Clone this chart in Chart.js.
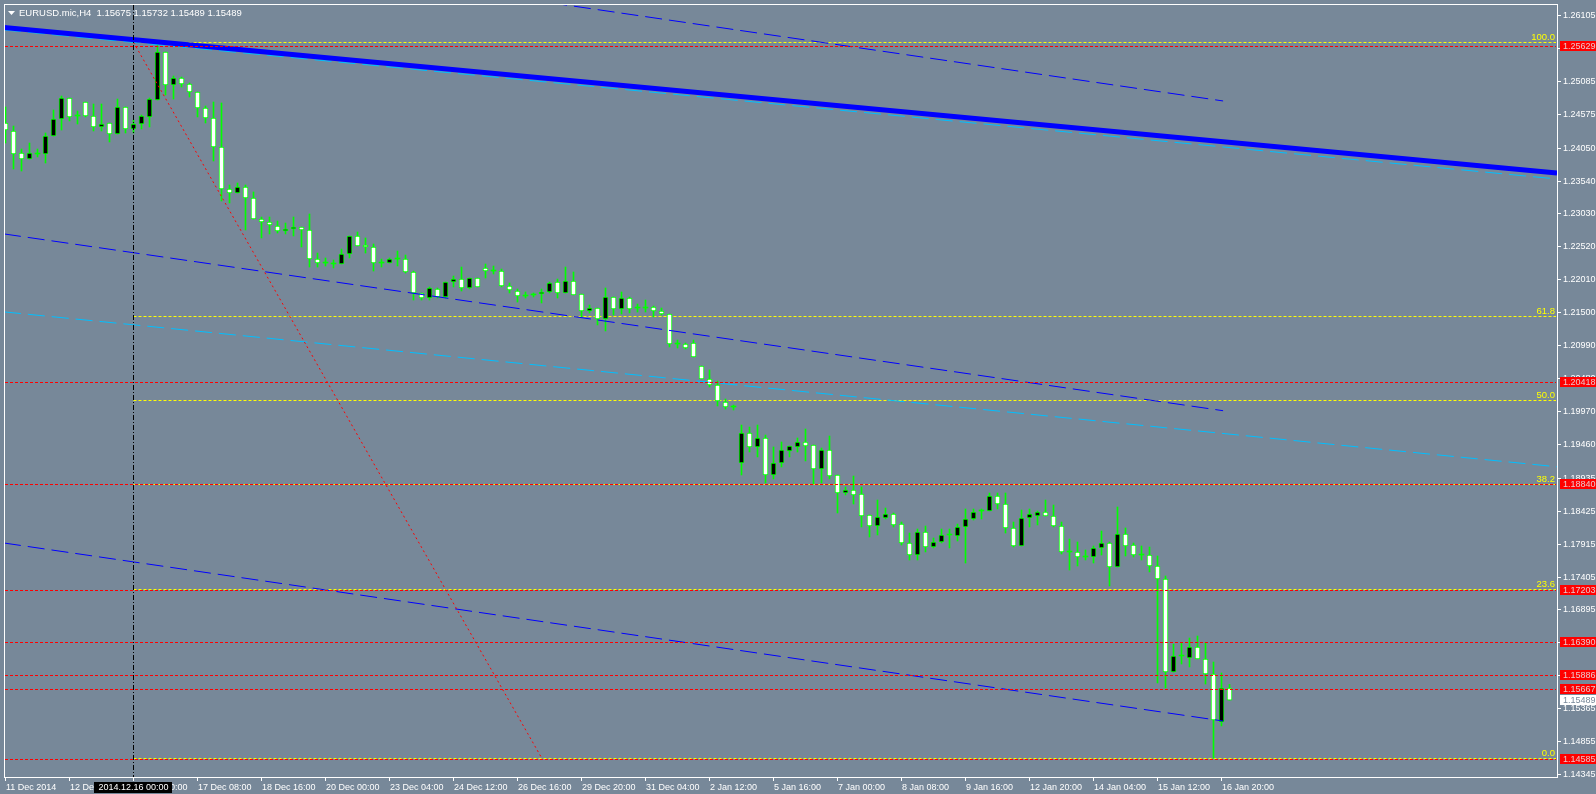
<!DOCTYPE html>
<html><head><meta charset="utf-8">
<script src="https://cdn.jsdelivr.net/npm/chart.js@4.4.1/dist/chart.umd.min.js"></script>
<style>html,body{margin:0;padding:0;background:#778899;overflow:hidden}canvas{display:block;background:#778899}</style>
</head><body>
<canvas id="c" width="1596" height="794"></canvas>
<script>
// ---------- DATA ----------
const chartTitle = 'EURUSD.mic,H4  1.15675 1.15732 1.15489 1.15489';
const opens = [1.24432,1.24308,1.23967,1.23874,1.23951,1.23951,1.24230,1.24494,1.24819,1.24540,
1.24757,1.24540,1.24370,1.24432,1.24261,1.24680,1.24339,1.24416,1.24525,1.24788,
1.25532,1.25020,1.25129,1.25036,1.24912,1.24664,1.24509,1.24060,1.23409,1.23347,
1.23440,1.23270,1.22944,1.22898,1.22836,1.22758,1.22789,1.22820,1.22774,1.22324,
1.22262,1.22247,1.22247,1.22402,1.22681,1.22541,1.22510,1.22262,1.22262,1.22324,
1.22324,1.22123,1.21798,1.21720,1.21860,1.21736,1.21968,1.22014,1.21875,1.22030,
1.22185,1.22138,1.22138,1.21906,1.21829,1.21751,1.21767,1.21782,1.21813,1.21968,
1.21798,1.21984,1.21782,1.21519,1.21565,1.21395,1.21736,1.21550,1.21720,1.21565,
1.21565,1.21581,1.21519,1.21472,1.21007,1.21007,1.21023,1.20667,1.20465,1.20372,
1.20109,1.20031,1.19164,1.19628,1.19412,1.19551,1.18978,1.19164,1.19350,1.19412,
1.19489,1.19443,1.19071,1.19365,1.18978,1.18699,1.18745,1.18683,1.18358,1.18187,
1.18311,1.18373,1.18218,1.17924,1.17738,1.18095,1.17862,1.17940,1.18048,1.18033,
1.18172,1.18296,1.18420,1.18420,1.18652,1.18528,1.18157,1.17878,1.18311,1.18342,
1.18404,1.18342,1.18187,1.17785,1.17785,1.17707,1.17707,1.17847,1.17924,1.17552,
1.18064,1.17893,1.17738,1.17738,1.17568,1.17366,1.15925,1.16173,1.16142,1.16313,
1.16127,1.15894,1.15151,1.15675];
const highs = [1.24680,1.24385,1.24029,1.24122,1.24029,1.24277,1.24633,1.24850,1.24819,1.24618,
1.24757,1.24726,1.24726,1.24432,1.24803,1.24680,1.24478,1.24556,1.24819,1.25671,
1.25532,1.25160,1.25144,1.25051,1.24912,1.24695,1.24757,1.24742,1.23471,1.23502,
1.23471,1.23363,1.22975,1.22975,1.22913,1.22882,1.22975,1.22820,1.23022,1.22417,
1.22340,1.22309,1.22479,1.22681,1.22743,1.22650,1.22557,1.22324,1.22340,1.22448,
1.22386,1.22138,1.21798,1.21891,1.21875,1.21968,1.22061,1.22200,1.22030,1.22030,
1.22247,1.22216,1.22169,1.21953,1.21860,1.21813,1.21798,1.21860,1.21968,1.22014,
1.22200,1.22123,1.21782,1.21612,1.21565,1.21875,1.21736,1.21813,1.21736,1.21627,
1.21689,1.21596,1.21565,1.21472,1.21069,1.21023,1.21069,1.20667,1.20605,1.20434,
1.20155,1.20062,1.19752,1.19721,1.19752,1.19597,1.19412,1.19489,1.19427,1.19551,
1.19690,1.19443,1.19396,1.19582,1.18978,1.18792,1.18962,1.18792,1.18358,1.18590,
1.18466,1.18389,1.18249,1.18079,1.18141,1.18187,1.18002,1.18141,1.18141,1.18218,
1.18451,1.18451,1.18451,1.18699,1.18699,1.18699,1.18249,1.18435,1.18451,1.18420,
1.18590,1.18513,1.18249,1.17986,1.17940,1.17816,1.17878,1.18110,1.17940,1.18482,
1.18157,1.17924,1.17878,1.17862,1.17723,1.17413,1.16359,1.16375,1.16452,1.16483,
1.16375,1.16080,1.15910,1.15732];
const lows = [1.24122,1.23719,1.23688,1.23874,1.23905,1.23812,1.24230,1.24323,1.24463,1.24416,
1.24525,1.24308,1.24308,1.24137,1.24261,1.24277,1.24277,1.24339,1.24370,1.24788,
1.24865,1.24803,1.24989,1.24834,1.24525,1.24432,1.23843,1.23223,1.23192,1.23347,
1.22774,1.22944,1.22650,1.22712,1.22727,1.22712,1.22681,1.22510,1.22200,1.22200,
1.22216,1.22185,1.22247,1.22340,1.22526,1.22417,1.22138,1.22200,1.22262,1.22216,
1.22107,1.21689,1.21689,1.21689,1.21720,1.21720,1.21891,1.21829,1.21860,1.21891,
1.22030,1.22092,1.21891,1.21798,1.21658,1.21720,1.21736,1.21643,1.21798,1.21720,
1.21798,1.21767,1.21426,1.21488,1.21302,1.21209,1.21457,1.21472,1.21488,1.21503,
1.21503,1.21426,1.21457,1.20961,1.20945,1.20930,1.20806,1.20465,1.20341,1.20047,
1.20000,1.19985,1.18978,1.19334,1.19257,1.18854,1.18916,1.19102,1.19257,1.19334,
1.19195,1.18838,1.18854,1.18916,1.18389,1.18668,1.18528,1.18172,1.18017,1.18048,
1.18296,1.18172,1.17893,1.17661,1.17661,1.17785,1.17847,1.17924,1.17847,1.17955,
1.17614,1.18280,1.18296,1.18420,1.18451,1.18079,1.17862,1.17878,1.18172,1.18203,
1.18342,1.18172,1.17754,1.17506,1.17568,1.17661,1.17614,1.17738,1.17258,1.17552,
1.17723,1.17707,1.17661,1.17475,1.15755,1.15678,1.15925,1.16049,1.16003,1.16127,
1.15739,1.14590,1.15089,1.15489];
const closes = [1.24323,1.23951,1.23874,1.23967,1.23951,1.24230,1.24494,1.24819,1.24525,1.24540,
1.24540,1.24370,1.24416,1.24261,1.24680,1.24339,1.24416,1.24540,1.24803,1.25532,
1.25020,1.25129,1.25036,1.24912,1.24664,1.24509,1.24060,1.23409,1.23347,1.23440,
1.23270,1.22944,1.22898,1.22851,1.22758,1.22789,1.22820,1.22774,1.22324,1.22262,
1.22262,1.22247,1.22402,1.22681,1.22526,1.22510,1.22262,1.22262,1.22324,1.22324,
1.22123,1.21798,1.21720,1.21875,1.21736,1.21968,1.22014,1.21875,1.22030,1.21891,
1.22138,1.22138,1.21906,1.21844,1.21751,1.21751,1.21767,1.21813,1.21953,1.21798,
1.21984,1.21767,1.21519,1.21565,1.21395,1.21736,1.21550,1.21720,1.21550,1.21565,
1.21565,1.21519,1.21472,1.21007,1.21007,1.20945,1.20806,1.20465,1.20372,1.20124,
1.20031,1.20031,1.19628,1.19412,1.19551,1.18978,1.19164,1.19365,1.19427,1.19489,
1.19427,1.19071,1.19365,1.18962,1.18699,1.18745,1.18668,1.18342,1.18187,1.18327,
1.18373,1.18203,1.17924,1.17738,1.18095,1.17862,1.17940,1.18048,1.18048,1.18172,
1.18296,1.18404,1.18420,1.18652,1.18528,1.18157,1.17878,1.18311,1.18373,1.18404,
1.18342,1.18187,1.17785,1.17785,1.17707,1.17707,1.17847,1.17924,1.17552,1.18064,
1.17878,1.17738,1.17738,1.17568,1.17366,1.15925,1.16173,1.16173,1.16313,1.16127,
1.15894,1.15182,1.15678,1.15489];

const timeTickIdx = [0,8,16,24,32,40,48,56,64,72,80,88,96,104,112,120,128,136,144,152];
const timeTickLabels = ['11 Dec 2014','12 Dec 20:00','16 Dec 00:00','17 Dec 08:00','18 Dec 16:00',
 '20 Dec 00:00','23 Dec 04:00','24 Dec 12:00','26 Dec 16:00','29 Dec 20:00','31 Dec 04:00',
 '2 Jan 12:00','5 Jan 16:00','7 Jan 00:00','8 Jan 08:00','9 Jan 16:00','12 Jan 20:00',
 '14 Jan 04:00','15 Jan 12:00','16 Jan 20:00'];
const priceTicks = ['1.26105','1.25595','1.25085','1.24575','1.24050','1.23540','1.23030','1.22520',
 '1.22010','1.21500','1.20990','1.20480','1.19970','1.19460','1.18935','1.18425','1.17915','1.17405',
 '1.16895','1.16385','1.15875','1.15365','1.14855','1.14345'];
const redLevels = [1.25629,1.20418,1.18840,1.17203,1.16390,1.15886,1.15667,1.14585];
const fibPrices = [1.14598,1.17214,1.18832,1.20140,1.21448,1.25682];
const fibNames = ['0.0','23.6','38.2','50.0','61.8','100.0'];
const fibStartIdx = 16;
const bidPrice = 1.15489;
const crossIdx = 16;
const crossLabel = '2014.12.16 00:00';

// trend lines: [bar index], [price]
const wideIdx = [-0.19, 193.94];
const thickBlue = [1.25911, 1.23657];
const thickCyan = [1.25873, 1.23564];
const midCyan = [1.21505, 1.19105];
const chanIdx = [-0.19, 152.2];
const chanUpper = [1.27531, 1.24773];
const chanMiddle = [1.22713, 1.19974];
const chanLower = [1.17924, 1.15166];
const fibLineIdx = [16, 67];
const fibLinePrice = [1.25682, 1.14598];

// ---------- BUILD ----------
const pts = (xs, ys) => xs.map((x, i) => ({x, y: ys[i]}));
const bodyData = opens.map((o, i) => ({x: i, y: [o, closes[i]]}));
const wickData = opens.map((o, i) => ({x: i, y: [lows[i], highs[i]]}));
const bodyFill = opens.map((o, i) => closes[i] > o ? '#000000' : (closes[i] < o ? '#ffffff' : '#00ff00'));
const bodyBorder = opens.map((o, i) => closes[i] === o ? 0 : 1);

const FONT = '9px "Liberation Sans", Arial, sans-serif';
const FONT2 = '9.5px "Liberation Sans", Arial, sans-serif';

function hline(ctx, x0, x1, py, color, dash){
  ctx.save(); ctx.strokeStyle = color; ctx.lineWidth = 1; ctx.setLineDash(dash);
  ctx.beginPath(); ctx.moveTo(x0, py); ctx.lineTo(x1, py); ctx.stroke(); ctx.restore();
}

const overlay = {
  id: 'overlay',
  beforeDatasetsDraw(chart){
    const {ctx, chartArea: a, scales: {x, y}} = chart;
    const x0 = x.getPixelForValue(fibStartIdx);
    fibPrices.forEach(p => {
      const py = Math.round(y.getPixelForValue(p)) + 0.5;
      hline(ctx, x0, a.right - 1, py, '#ffff00', [3,2]);
    });
  },
  afterDatasetsDraw(chart){
    const {ctx, chartArea: a, scales: {x, y}} = chart;
    // red horizontal levels
    redLevels.forEach(p => {
      const py = Math.round(y.getPixelForValue(p)) + 0.5;
      hline(ctx, a.left + 1, a.right - 1, py, '#ff0000', [3,2]);
    });
    // crosshair vertical
    const cx = x.getPixelForValue(crossIdx);
    ctx.save(); ctx.strokeStyle = '#000000'; ctx.lineWidth = 1; ctx.setLineDash([5,2,1,2]);
    ctx.beginPath(); ctx.moveTo(cx, a.top + 1); ctx.lineTo(cx, a.bottom); ctx.stroke(); ctx.restore();
    // fib labels
    ctx.save(); ctx.font = FONT2; ctx.fillStyle = '#ffff00'; ctx.textAlign = 'right'; ctx.textBaseline = 'alphabetic';
    fibPrices.forEach((p, i) => {
      const py = Math.round(y.getPixelForValue(p));
      ctx.fillText(fibNames[i], a.right - 2, py - 2);
    });
    ctx.restore();
    // frame
    ctx.save(); ctx.strokeStyle = '#ffffff'; ctx.lineWidth = 1; ctx.setLineDash([]);
    ctx.strokeRect(a.left + 0.5, a.top + 0.5, a.right - a.left, a.bottom - a.top);
    ctx.restore();
    // price axis
    ctx.save(); ctx.font = FONT; ctx.textBaseline = 'middle'; ctx.textAlign = 'left';
    priceTicks.forEach(t => {
      const py = Math.round(y.getPixelForValue(parseFloat(t)));
      ctx.fillStyle = '#ffffff';
      ctx.fillRect(a.right + 1, py, 3, 1);
      ctx.fillText(t, a.right + 6, py + 0.5);
    });
    redLevels.forEach(p => {
      const py = Math.round(y.getPixelForValue(p));
      ctx.fillStyle = '#ff0000';
      ctx.fillRect(a.right + 3, py - 5, 40, 10);
      ctx.fillStyle = '#e8c8cc';
      ctx.fillText(p.toFixed(5), a.right + 6, py + 0.5);
    });
    {
      const py = Math.round(y.getPixelForValue(bidPrice));
      ctx.fillStyle = '#ffffff';
      ctx.fillRect(a.right + 3, py - 5, 40, 10);
      ctx.fillStyle = '#778899';
      ctx.fillText(bidPrice.toFixed(5), a.right + 6, py + 0.5);
    }
    ctx.restore();
    // time axis
    ctx.save(); ctx.font = FONT; ctx.textBaseline = 'alphabetic'; ctx.textAlign = 'left'; ctx.fillStyle = '#ffffff';
    timeTickIdx.forEach((ix, i) => {
      const px = x.getPixelForValue(ix);
      ctx.fillRect(Math.floor(px), a.bottom + 1, 1, 3);
      ctx.fillText(timeTickLabels[i], Math.floor(px) + 1, a.bottom + 13);
    });
    // crosshair time label
    ctx.fillStyle = '#000000';
    ctx.fillRect(Math.floor(cx) - 39, a.bottom + 5, 78, 11);
    ctx.fillStyle = '#ffffff'; ctx.textAlign = 'center';
    ctx.fillText(crossLabel, Math.floor(cx) + 0.5, a.bottom + 13);
    ctx.restore();
    // title
    ctx.save(); ctx.fillStyle = '#ffffff';
    ctx.beginPath(); ctx.moveTo(8, 11); ctx.lineTo(15, 11); ctx.lineTo(11.5, 15); ctx.closePath(); ctx.fill();
    ctx.font = FONT2; ctx.textBaseline = 'alphabetic'; ctx.textAlign = 'left';
    ctx.fillText(chartTitle, 19, 16);
    ctx.restore();
  }
};

const lineDs = (xs, ys, color, width, dash, order) => ({
  type: 'line', data: pts(xs, ys), borderColor: color, borderWidth: width, borderDash: dash,
  pointRadius: 0, fill: false, tension: 0, order, borderCapStyle: 'butt'
});

new Chart(document.getElementById('c'), {
  type: 'bar',
  data: {
    datasets: [
      {type: 'bar', data: wickData, backgroundColor: '#00ff00', borderWidth: 0, barThickness: 1, grouped: false, order: 10},
      {type: 'bar', data: bodyData, backgroundColor: bodyFill, borderColor: '#00ff00', borderWidth: bodyBorder,
       borderSkipped: false, barThickness: 5, minBarLength: 1, grouped: false, order: 9},
      lineDs(wideIdx, thickCyan, '#00bfff', 1, [17,7], 8),
      lineDs(wideIdx, thickBlue, '#0000ff', 5, [], 7),
      lineDs(wideIdx, midCyan, '#00bfff', 1, [17,7], 6),
      lineDs(chanIdx, chanUpper, '#0000ff', 1, [17,7], 5),
      lineDs(chanIdx, chanMiddle, '#0000ff', 1, [17,7], 5),
      lineDs(chanIdx, chanLower, '#0000ff', 1, [17,7], 5),
      lineDs(fibLineIdx, fibLinePrice, '#ff0000', 1, [2,3], 4)
    ]
  },
  options: {
    responsive: false, devicePixelRatio: 1, animation: false, events: [],
    layout: {padding: {left: 4, top: 4, right: 39, bottom: 17}},
    plugins: {legend: {display: false}, tooltip: {enabled: false}, title: {display: false}},
    scales: {
      x: {type: 'linear', min: -0.1875, max: 193.9375, offset: false, display: false, grid: {display: false}},
      y: {type: 'linear', min: 1.142985, max: 1.262754, beginAtZero: false, display: false, grid: {display: false}}
    }
  },
  plugins: [overlay]
});
</script>
</body></html>
